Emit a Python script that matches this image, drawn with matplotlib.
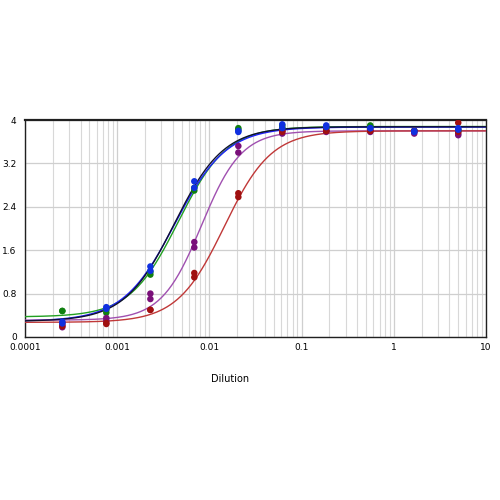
import numpy as np
import matplotlib
matplotlib.use("Agg")
import matplotlib.pyplot as plt

dilutions = [0.000254, 0.000762, 0.00229, 0.00686, 0.0206, 0.0617, 0.185, 0.556, 1.667, 5.0]

green_a = [0.48, 0.45, 1.15, 2.70, 3.85, 3.90, 3.86, 3.90, 3.80, 3.82]
green_b = [0.48, 0.50, 1.20, 2.75, 3.82, 3.86, 3.85, 3.88, 3.80, 3.80]
blue_a = [0.25, 0.52, 1.22, 2.75, 3.78, 3.92, 3.87, 3.85, 3.78, 3.85]
blue_b = [0.28, 0.55, 1.30, 2.87, 3.80, 3.85, 3.90, 3.85, 3.80, 3.82]
purple_a = [0.18, 0.30, 0.70, 1.65, 3.40, 3.75, 3.78, 3.78, 3.75, 3.72]
purple_b = [0.22, 0.35, 0.80, 1.75, 3.52, 3.80, 3.80, 3.80, 3.78, 3.75]
red_a = [0.20, 0.24, 0.50, 1.10, 2.58, 3.78, 3.80, 3.80, 3.80, 3.95]
red_b = [0.26, 0.26, 0.50, 1.18, 2.65, 3.80, 3.80, 3.80, 3.80, 3.78]

# fitted 4PL parameters: bottom, top, ec50, hill
fit_names = ["green", "blue", "purple", "red", "black"]
fit_bottom = [0.37, 0.29, 0.31, 0.27, 0.29]
fit_top = [3.88, 3.87, 3.80, 3.80, 3.875]
fit_ec50 = [0.0046, 0.0042, 0.0082, 0.0145, 0.00415]
fit_hill = [1.65, 1.55, 2.00, 1.70, 1.62]

y_ticks = [0, 0.8, 1.6, 2.4, 3.2, 4]
x_ticks = [0.0001, 0.001, 0.01, 0.1, 1, 10]
x_tick_labels = ["0.0001", "0.001", "0.01", "0.1", "1", "10"]

fig = plt.figure(figsize=(5, 5), dpi=100)
ax = fig.add_axes([0.05, 0.326, 0.922, 0.434])
ax.set_xscale("log")
ax.set_xlim(1e-4, 10)
ax.set_ylim(0, 4)

ax.grid(True, which="minor", axis="x", color="#d8d8d8", lw=0.8)
ax.grid(True, which="major", axis="both", color="#cfcfcf", lw=0.9)
ax.set_axisbelow(True)

xs = np.logspace(-4, 1, 400)
line_colors = {"green": "#22a022", "blue": "#2020ff", "purple": "#a050b0", "red": "#c03838", "black": "#101030"}
line_z = {"green": 3, "blue": 3, "purple": 3, "red": 3, "black": 3.5}
for i, n in enumerate(fit_names):
    y = fit_bottom[i] + (fit_top[i] - fit_bottom[i]) / (1 + (fit_ec50[i] / xs) ** fit_hill[i])
    ax.plot(xs, y, color=line_colors[n], lw=1.0, zorder=line_z[n])

series = [
    (green_a, green_b, "#108010"),
    (purple_a, purple_b, "#7a107a"),
    (red_a, red_b, "#a01010"),
    (blue_a, blue_b, "#1030e0"),
]
for a, b, c in series:
    ax.scatter(dilutions, a, s=22, color=c, zorder=4, edgecolors="none")
    ax.scatter(dilutions, b, s=22, color=c, zorder=4, edgecolors="none")

ax.set_yticks(y_ticks)
ax.set_yticklabels([("%g" % v) for v in y_ticks])
ax.set_xticks(x_ticks)
ax.set_xticklabels(x_tick_labels)
ax.tick_params(axis="both", which="both", length=0, labelsize=6.5, pad=4)
ax.tick_params(axis="y", pad=6)
ax.set_xlabel("Dilution", fontsize=7)
ax.xaxis.set_label_coords(0.445, -0.17)
for s in ax.spines.values():
    s.set_color("#202020")
    s.set_linewidth(1.0)
ax.spines["top"].set_linewidth(1.6)

fig.savefig("out.png", dpi=100)
